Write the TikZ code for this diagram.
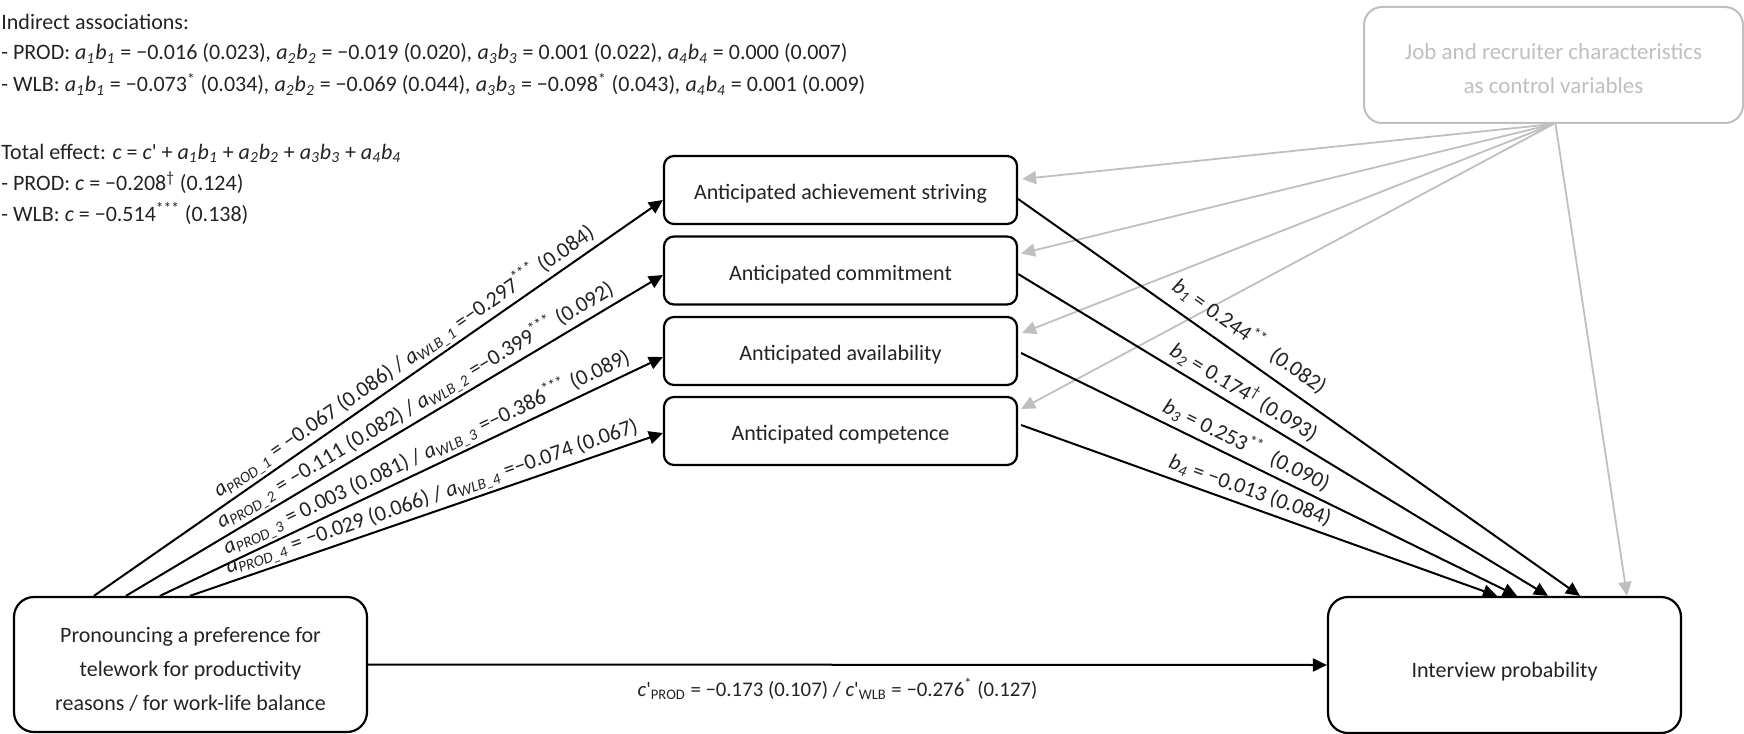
\documentclass[tikz,border=0pt]{standalone}
\usepackage{fontspec}
\setmainfont{Carlito}
\usetikzlibrary{arrows.meta,calc}
\definecolor{ctlgray}{RGB}{191,191,191}
\definecolor{txt}{RGB}{35,35,35}
\newcommand\abx[1]{\textit{a\textsubscript{#1}b\textsubscript{#1}}}
\newcommand\aP[1]{\textit{a}\textsubscript{\textit{PROD\_#1}}}
\newcommand\aW[1]{\textit{a}\textsubscript{\textit{WLB\_#1}}}
\newcommand\bx[1]{\textit{b}\textsubscript{\textit{#1}}}
\newcommand\sstar[1]{\textsuperscript{#1}}
\begin{document}
\begin{tikzpicture}[x=0.5pt,y=-0.5pt,
  font=\fontsize{11}{13}\selectfont, text=txt,
  mbox/.style={draw=black, line width=1.1pt, rounded corners=5pt,
    minimum width=176.5pt, minimum height=34pt, inner sep=0pt,
    text height=9.8pt, text depth=0pt},
  bigbox/.style={draw=black, line width=1.1pt, rounded corners=10pt, inner sep=0pt},
  ctlbox/.style={draw=ctlgray, line width=1pt, rounded corners=9pt, inner sep=0pt, text=ctlgray},
  arr/.style={draw=black, line width=1pt, -{Triangle[length=7pt,width=6.5pt]}},
  garr/.style={draw=ctlgray, line width=0.9pt, -{Triangle[length=7pt,width=6.5pt]}},
  alab/.style={sloped, above, inner sep=1.2pt, font=\fontsize{11}{13}\selectfont},
  blab/.style={sloped, above, inner sep=2.5pt, font=\fontsize{11}{13}\selectfont},
  tl/.style={anchor=base west, inner sep=0pt}]
\useasboundingbox (0,0) rectangle (1744,733);

% top-left notes
\node[tl] (t1) at (1,30) {Indirect associations:};
\node[tl] (t2) at (1,60) {- PROD: \abx{1} = −0.016 (0.023)\textit{,} \abx{2} = −0.019 (0.020)\textit{,} \abx{3} = 0.001 (0.022)\textit{,} \abx{4} = 0.000 (0.007)};
\node[tl] (t3) at (1,92) {- WLB: \abx{1} = −0.073\sstar{*} (0.034)\textit{,} \abx{2} = −0.069 (0.044)\textit{,} \abx{3} = −0.098\sstar{*} (0.043)\textit{,} \abx{4} = 0.001 (0.009)};
\node[tl] (t4) at (1,159) {Total effect: \textit{c} = \textit{c}\textquotesingle{} + \abx{1} + \abx{2} + \abx{3} + \abx{4}};
\node[tl] (t5) at (1,190) {- PROD: \textit{c} = −0.208\sstar{†} (0.124)};
\node[tl] (t6) at (1,221) {- WLB: \textit{c} = −0.514\sstar{***} (0.138)};

% mediators
\node[mbox] (m1) at (840.5,190) {Anticipated achievement striving};
\node[mbox] (m2) at (840.5,270.5) {Anticipated commitment};
\node[mbox] (m3) at (840.5,351) {Anticipated availability};
\node[mbox] (m4) at (840.5,431) {Anticipated competence};

% source, outcome, controls
\node[bigbox, minimum width=176.5pt, minimum height=67.5pt] (src) at (190.5,664.5) {};
\node[align=center, font=\fontsize{11}{17}\selectfont] (srct) at (190.5,669) {Pronouncing a preference for\\telework for productivity\\reasons / for work-life balance};
\node[bigbox, minimum width=176.5pt, minimum height=68pt, text height=12pt, text depth=0pt] (int) at (1504.5,665) {Interview probability};
\node[ctlbox, minimum width=189.5pt, minimum height=58pt] (ctl) at (1553.5,65) {};
\node[align=center, text=ctlgray, font=\fontsize{11.5}{17.2}\selectfont] (ctlt) at (1553.5,68.5) {Job and recruiter characteristics\\as control variables};

% control arrows
\draw[garr] (ctl.south) -- ($(m1.east)+(4,-11)$);
\draw[garr] (ctl.south) -- ($(m2.east)+(3,-17)$);
\draw[garr] (ctl.south) -- ($(m3.east)+(4,-18)$);
\draw[garr] (ctl.south) -- ($(m4.east)+(3,-22)$);
\draw[garr] ($(ctl.south)+(2,0)$) -- ($(int.north)+(122.5,0)$);

% a paths
\draw[arr] ($(src.north west)+(81,0)$) -- node[alab, pos=0.56] {\aP{1} = −0.067 (0.086) / \aW{1} =−0.297\sstar{***} (0.084)} ($(m1.west)+(0,10)$);
\draw[arr] ($(src.north west)+(113,0)$) -- node[alab, pos=0.553] {\aP{2} = −0.111 (0.082) / \aW{2} =−0.399\sstar{***} (0.092)} ($(m2.west)+(0,4.5)$);
\draw[arr] ($(src.north west)+(147,0)$) -- node[alab, pos=0.543] {\aP{3} = 0.003 (0.081) / \aW{3} =−0.386\sstar{***} (0.089)} ($(m3.west)+(0,6)$);
\draw[arr] ($(src.north west)+(177,0)$) -- node[alab, pos=0.522] {\aP{4} = −0.029 (0.066) / \aW{4} =−0.074 (0.067)} ($(m4.west)+(0,2)$);

% b paths
\draw[arr] ($(m1.east)+(0,9)$) -- node[blab, pos=0.39, inner sep=5pt] {\bx{1} = 0.244\sstar{**}\hspace{0.3em} (0.082)} ($(int.north)+(75.5,0)$);
\draw[arr] ($(m2.east)+(0,3.5)$) -- node[blab, pos=0.41] {\bx{2} = 0.174\sstar{†} (0.093)} ($(int.north)+(43.5,0)$);
\draw[arr] ($(m3.east)+(3,2)$) -- node[blab, pos=0.44] {\bx{3} = 0.253\sstar{**}\hspace{0.3em} (0.090)} ($(int.north)+(12.5,0)$);
\draw[arr] ($(m4.east)+(3,-6)$) -- node[blab, pos=0.47] {\bx{4} = −0.013 (0.084)} ($(int.north)+(-7.5,0)$);

% direct path
\draw[arr] (src.east) -- node[below, xshift=-5pt, yshift=-3pt, font=\fontsize{10.4}{12}\selectfont] {\textit{c}\textquotesingle\textsubscript{PROD} = −0.173 (0.107) / \textit{c}\textquotesingle\textsubscript{WLB} = −0.276\sstar{*} (0.127)} (int.west);
\end{tikzpicture}
\end{document}
